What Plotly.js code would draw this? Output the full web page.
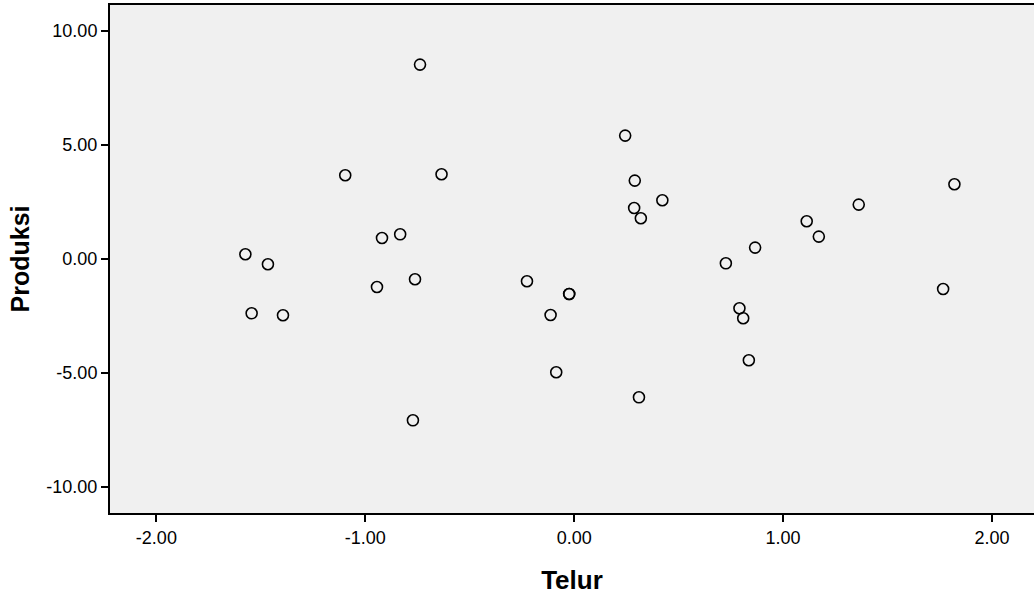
<!DOCTYPE html>
<html>
<head>
<meta charset="utf-8">
<script src="https://cdn.plot.ly/plotly-3.0.1.min.js"></script>
<style>html,body{margin:0;padding:0;background:#fff;}#chart{width:1034px;height:595px;}</style>
</head>
<body>
<div id="chart"></div>
<script>
// Telur (x) and Produksi (y) values
const telur = [-1.574, -1.544, -1.466, -1.394, -1.096, -0.920, -0.833, -0.944, -0.762, -0.738,
  -0.635, -0.772, -0.226, -0.113, -0.086, -0.024, -0.024, 0.244, 0.290, 0.287,
  0.319, 0.422, 0.310, 0.726, 0.791, 0.809, 0.836, 0.866, 1.113, 1.171,
  1.362, 1.766, 1.820];
const produksi = [0.206, -2.382, -0.232, -2.469, 3.671, 0.921, 1.083, -1.228, -0.890, 8.526,
  3.715, -7.075, -0.978, -2.456, -4.969, -1.535, -1.535, 5.412, 3.439, 2.237,
  1.785, 2.575, -6.066, -0.189, -2.162, -2.601, -4.443, 0.500, 1.654, 0.982,
  2.386, -1.316, 3.276];
const xTicks = [-2, -1, 0, 1, 2];
const xTickLabels = ["-2.00", "-1.00", "0.00", "1.00", "2.00"];
const yTicks = [-10, -5, 0, 5, 10];
const yTickLabels = ["-10.00", "-5.00", "0.00", "5.00", "10.00"];

const trace = {
  x: telur, y: produksi, type: 'scatter', mode: 'markers',
  marker: {symbol: 'circle-open', size: 11, color: '#000', line: {width: 1.6, color: '#000'}},
  hoverinfo: 'skip'
};
const font = {family: 'Liberation Sans, Arial, sans-serif', color: '#000'};
const layout = {
  width: 1034, height: 595,
  margin: {l: 110, r: 0, t: 5, b: 82},
  paper_bgcolor: '#ffffff', plot_bgcolor: '#f0f0f0',
  showlegend: false,
  font: font,
  xaxis: {
    range: [-2.222, 2.201], tickvals: xTicks, ticktext: xTickLabels,
    showgrid: false, zeroline: false, showline: true, linewidth: 2, linecolor: '#000', mirror: true,
    ticks: 'outside', ticklen: 7, tickwidth: 2, tickcolor: '#000',
    tickfont: {family: font.family, size: 18, color: '#000'},
    title: {text: '<b>Telur</b>', font: {family: font.family, size: 26, color: '#000'}, standoff: 24},
    automargin: false
  },
  yaxis: {
    range: [-11.14, 11.14], tickvals: yTicks, ticktext: yTickLabels,
    showgrid: false, zeroline: false, showline: true, linewidth: 2, linecolor: '#000', mirror: false,
    ticks: 'outside', ticklen: 7, tickwidth: 2, tickcolor: '#000',
    tickfont: {family: font.family, size: 18, color: '#000'},
    title: {text: '<b>Produksi</b>', font: {family: font.family, size: 25, color: '#000'}, standoff: 10},
    automargin: false
  }
};
Plotly.newPlot('chart', [trace], layout, {displayModeBar: false, staticPlot: true});
</script>
</body>
</html>
